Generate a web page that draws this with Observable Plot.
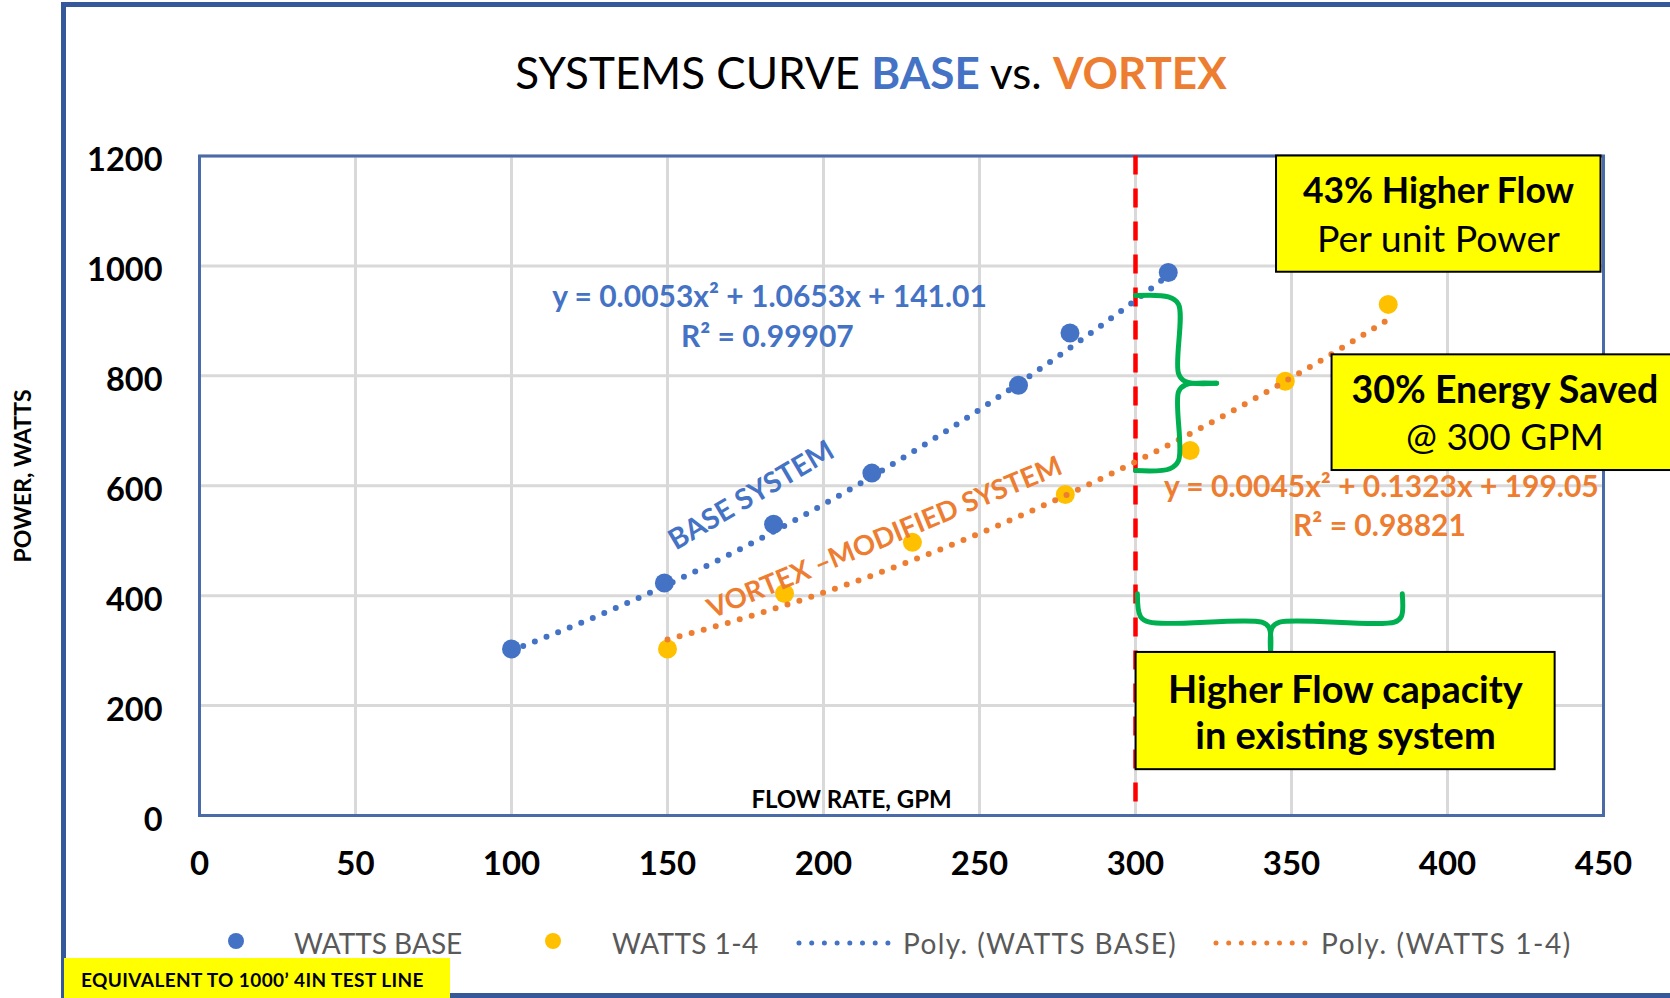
<!DOCTYPE html>
<html>
<head>
<meta charset="utf-8">
<script src="https://cdn.jsdelivr.net/npm/d3@7"></script>
<script src="https://cdn.jsdelivr.net/npm/@observablehq/plot@0.6"></script>
<style>
  body { margin: 0; background: #fff; font-family: Lato, "Open Sans", sans-serif; }
  #wrap { position: relative; width: 1670px; height: 998px; overflow: hidden; background: #fff; }
  #chart { position: absolute; left: 0; top: 0; }
  #border { position: absolute; left: 61px; top: 2px; width: 1700px; height: 996px; box-sizing: border-box; border: 5px solid #34589A; }
  #title { position: absolute; left: 871px; top: 72px; transform: translate(-50%, -50%); font-size: 44px; white-space: nowrap; color: #000; }
  #ylabel { position: absolute; left: 22px; top: 476px; transform: translate(-50%, -50%) rotate(-90deg); font-size: 23px; font-weight: bold; white-space: nowrap; }
  .leg { position: absolute; top: 943px; transform: translateY(-50%); font-size: 28px; color: #595959; white-space: nowrap; }
  .legsym { position: absolute; }
  #foot { position: absolute; left: 64px; top: 958px; width: 386px; height: 40px; background: #FFFF00; font-weight: bold; font-size: 19px; letter-spacing: 0.4px; line-height: 44px; padding-left: 17px; box-sizing: border-box; white-space: nowrap; overflow: hidden; }
</style>
</head>
<body>
<div id="wrap">
  <div id="border"></div>
  <div id="chart"></div>
  <div id="title"></div>
  <div id="ylabel"></div>
  <div id="legend"></div>
  <div id="foot"></div>
</div>
<script>
// ---------- data ----------
const titleParts = ["SYSTEMS CURVE ", "BASE", " vs. ", "VORTEX"];
const yTitle = "POWER, WATTS";
const xTitle = "FLOW RATE, GPM";
const footnote = "EQUIVALENT TO 1000’ 4IN TEST LINE";

const xTicks = [0, 50, 100, 150, 200, 250, 300, 350, 400, 450];
const yTicks = [0, 200, 400, 600, 800, 1000, 1200];

const baseFlow = [100, 149, 184, 215.5, 262.5, 279, 310.5];
const baseWatts = [303, 423, 530, 623, 783, 878, 988];
const vortexFlow = [150, 187.5, 228.5, 277.5, 317.5, 348, 381];
const vortexWatts = [303, 404, 497, 584, 664, 790, 930];

// polynomial trendline coefficients as printed on the chart (a, b, c for a·x² + b·x + c)
const baseCoef = [0.0053, 1.0653, 141.01];
const vortexCoef = [0.0045, 0.1323, 199.05];
const baseEq = ["y = 0.0053x² + 1.0653x + 141.01", "R² = 0.99907"];
const vortexEq = ["y = 0.0045x² + 0.1323x + 199.05", "R² = 0.98821"];

const legendLabels = ["WATTS BASE", "WATTS 1-4", "Poly. (WATTS BASE)", "Poly. (WATTS 1-4)"];

const refFlow = [300];

// annotation boxes (data space)
const boxes = [
  {x1: 345.2, x2: 449.2, y1: 988.5, y2: 1200},
  {x1: 363, x2: 480, y1: 627.7, y2: 838.2},
  {x1: 300.2, x2: 434.5, y1: 83.4, y2: 296.7}
];
const boxText = [
  {x: 397.1, y: 1135.9, text: "43% Higher Flow", size: 35.5, bold: true},
  {x: 397.1, y: 1048, text: "Per unit Power", size: 37.5, bold: false},
  {x: 418.4, y: 773.3, text: "30% Energy Saved", size: 37.5, bold: true},
  {x: 418.4, y: 686, text: "@ 300 GPM", size: 37, bold: false},
  {x: 367.3, y: 227.4, text: "Higher Flow capacity", size: 38, bold: true},
  {x: 367.3, y: 142.5, text: "in existing system", size: 38, bold: true}
];

// curly braces (data space)
const braceV = [
  {x: 300, y: 946, s: "a"}, {x: 310.5, y: 943.5, s: "a"}, {x: 313.8, y: 930, s: "a"}, {x: 313.8, y: 804, s: "a"}, {x: 316, y: 789.5, s: "a"}, {x: 326, y: 786.6, s: "a"},
  {x: 326, y: 786.6, s: "b"}, {x: 316, y: 783.5, s: "b"}, {x: 313.8, y: 771, s: "b"}, {x: 313.8, y: 646, s: "b"}, {x: 311, y: 631, s: "b"}, {x: 300, y: 627.7, s: "b"}
];
const braceH = [
  {x: 300.6, y: 403.4, s: "a"}, {x: 301.6, y: 362, s: "a"}, {x: 304.5, y: 351.7, s: "a"}, {x: 340.5, y: 351.7, s: "a"}, {x: 342.8, y: 342, s: "a"}, {x: 343.3, y: 297, s: "a"},
  {x: 343.3, y: 297, s: "b"}, {x: 343.8, y: 342, s: "b"}, {x: 346.2, y: 351.7, s: "b"}, {x: 383, y: 351.7, s: "b"}, {x: 385.2, y: 362, s: "b"}, {x: 385.5, y: 403.4, s: "b"}
];

// rotated series labels
const seriesLabels = [
  {x: 176.9, y: 582.2, text: "BASE SYSTEM", color: "#4472C4", rotate: -30.5, size: 28.5},
  {x: 219.6, y: 505.5, text: "VORTEX –MODIFIED SYSTEM", color: "#ED7D31", rotate: -22.5, size: 27.5}
];

// ---------- build ----------
const BLUE = "#4472C4", GOLD = "#FFC000", ORANGE = "#ED7D31", GREEN = "#00B050";

const base = baseFlow.map((x, i) => ({x, y: baseWatts[i]}));
const vortex = vortexFlow.map((x, i) => ({x, y: vortexWatts[i]}));

function trend(coef, xs) {
  const [lo, hi] = d3.extent(xs);
  const n = 120;
  return d3.range(n + 1).map(i => {
    const x = lo + (hi - lo) * i / n;
    return {x, y: coef[0] * x * x + coef[1] * x + coef[2]};
  });
}
const baseTrend = trend(baseCoef, baseFlow);
const vortexTrend = trend(vortexCoef, vortexFlow);

const eqBlue = [{x: 182.7, y: 942.5, text: baseEq[0]}, {x: 182, y: 869.7, text: baseEq[1]}];
const eqOrange = [{x: 378.8, y: 596.8, text: vortexEq[0]}, {x: 378.2, y: 525.8, text: vortexEq[1]}];

const dotted = {strokeWidth: 6, strokeDasharray: "0,12.5", strokeLinecap: "round"};

const marks = [
  Plot.gridX(xTicks, {stroke: "#D9D9D9", strokeOpacity: 1, strokeWidth: 3}),
  Plot.gridY(yTicks, {stroke: "#D9D9D9", strokeOpacity: 1, strokeWidth: 3}),
  Plot.frame({stroke: "#4A6AA8", strokeWidth: 3}),
  Plot.axisX(xTicks, {tickSize: 0, tickPadding: 36, fontSize: 33, fontWeight: "bold", tickFormat: d => String(d), label: null}),
  Plot.axisY(yTicks, {tickSize: 0, tickPadding: 37, fontSize: 32.5, fontWeight: "bold", tickFormat: d => String(d), dy: 5, label: null}),
  Plot.text([xTitle], {x: 209, y: 27.3, text: d => d, fontSize: 24, fontWeight: "bold", fill: "#000"}),
  Plot.ruleX(refFlow, {stroke: "#FF0000", strokeWidth: 4.5, strokeDasharray: "19,14"}),
  Plot.dot(base, {x: "x", y: "y", r: 9.5, fill: BLUE}),
  Plot.dot(vortex, {x: "x", y: "y", r: 9.5, fill: GOLD}),
  Plot.line(baseTrend, {x: "x", y: "y", stroke: BLUE, ...dotted}),
  Plot.line(vortexTrend, {x: "x", y: "y", stroke: ORANGE, ...dotted}),
  Plot.text(eqBlue, {x: "x", y: "y", text: "text", fill: BLUE, fontSize: 30, fontWeight: "bold"}),
  Plot.text(eqOrange, {x: "x", y: "y", text: "text", fill: ORANGE, fontSize: 30, fontWeight: "bold"}),
  ...seriesLabels.map(s => Plot.text([s], {x: "x", y: "y", text: "text", fill: s.color, rotate: s.rotate, fontSize: s.size, fontWeight: "bold"})),
  Plot.line(braceV, {x: "x", y: "y", z: "s", stroke: GREEN, strokeWidth: 5, curve: "catmull-rom"}),
  Plot.line(braceH, {x: "x", y: "y", z: "s", stroke: GREEN, strokeWidth: 5, curve: "catmull-rom"}),
  Plot.rect(boxes, {x1: "x1", x2: "x2", y1: "y1", y2: "y2", fill: "#FFFF00", stroke: "#000", strokeWidth: 2}),
  ...boxText.map(b => Plot.text([b], {x: "x", y: "y", text: "text", fontSize: b.size, fontWeight: b.bold ? "bold" : "normal", fill: "#000"}))
];

const plot = Plot.plot({
  width: 1670,
  height: 998,
  marginLeft: 199,
  marginRight: 67,
  marginTop: 155.5,
  marginBottom: 183,
  x: {domain: [0, 450]},
  y: {domain: [0, 1200]},
  style: {fontFamily: "Lato, sans-serif", background: "transparent", color: "#000", overflow: "visible"},
  marks
});
document.getElementById("chart").appendChild(plot);

// title
const t = document.getElementById("title");
t.innerHTML = `${titleParts[0]}<span style="color:${BLUE};font-weight:bold">${titleParts[1]}</span>${titleParts[2]}<span style="color:${ORANGE};font-weight:bold">${titleParts[3]}</span>`;

document.getElementById("ylabel").textContent = yTitle;
document.getElementById("foot").textContent = footnote;

// legend
const leg = document.getElementById("legend");
const legendSyms = [
  {kind: "dot", color: BLUE, left: 236},
  {kind: "dot", color: GOLD, left: 553},
  {kind: "line", color: BLUE, left: 799},
  {kind: "line", color: ORANGE, left: 1216}
];
const legendTextLeft = [294, 612, 903, 1321];
const legendSpacing = [0, 0.4, 1.4, 1.6];
legendSyms.forEach((s, i) => {
  const svg = d3.create("svg").attr("class", "legsym");
  if (s.kind === "dot") {
    svg.attr("width", 20).attr("height", 20).style("left", (s.left - 10) + "px").style("top", (941 - 10) + "px");
    svg.append("circle").attr("cx", 10).attr("cy", 10).attr("r", 8).attr("fill", s.color);
  } else {
    svg.attr("width", 100).attr("height", 12).style("left", (s.left - 3) + "px").style("top", (943 - 6) + "px");
    svg.append("line").attr("x1", 3).attr("x2", 96).attr("y1", 6).attr("y2", 6)
      .attr("stroke", s.color).attr("stroke-width", 5).attr("stroke-linecap", "round").attr("stroke-dasharray", "0,12.7");
  }
  leg.appendChild(svg.node());
  const sp = document.createElement("div");
  sp.className = "leg";
  sp.style.left = legendTextLeft[i] + "px";
  sp.style.letterSpacing = legendSpacing[i] + "px";
  sp.textContent = legendLabels[i];
  leg.appendChild(sp);
});
</script>
</body>
</html>
